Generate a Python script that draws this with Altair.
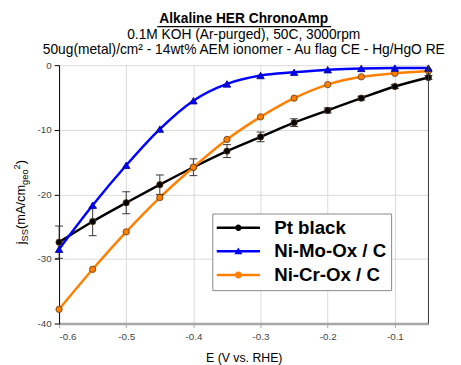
import altair as alt
import pandas as pd

# ---------------- data ----------------
E = [-0.6, -0.55, -0.5, -0.45, -0.4, -0.35, -0.3, -0.25, -0.2, -0.15, -0.1, -0.05]
pt_black = [-27.4, -24.2, -21.3, -18.5, -15.8, -13.3, -11.1, -8.9, -7.0, -5.1, -3.3, -1.9]
pt_err = [2.5, 2.2, 1.7, 1.5, 1.3, 1.0, 0.75, 0.6, 0.4, 0.3, 0.3, 0.3]
ni_mo = [-28.5, -21.7, -15.5, -9.9, -5.5, -2.9, -1.6, -1.1, -0.7, -0.5, -0.45, -0.45]
ni_cr = [-37.8, -31.6, -25.8, -20.5, -15.8, -11.5, -8.0, -5.1, -3.0, -1.8, -1.26, -0.9]

series_names = ["Pt black", "Ni-Mo-Ox / C", "Ni-Cr-Ox / C"]
series_colors = ["#000000", "#0000FF", "#FF8000"]
x_ticks = [-0.6, -0.5, -0.4, -0.3, -0.2, -0.1]
y_ticks = [-40, -30, -20, -10, 0]

title_text = "Alkaline HER ChronoAmp"
subtitle_lines = ["0.1M KOH (Ar-purged), 50C, 3000rpm",
                  "50ug(metal)/cm\u00b2 - 14wt% AEM ionomer - Au flag CE - Hg/HgO RE"]
x_title = "E (V vs. RHE)"

FONT = "Liberation Sans"

rows = []
for name, vals in zip(series_names, [pt_black, ni_mo, ni_cr]):
    for e, v in zip(E, vals):
        rows.append({"E": e, "j": v, "series": name})
df = pd.DataFrame(rows)
pt_df = pd.DataFrame({"E": E, "j": pt_black,
                      "lo": [v - s for v, s in zip(pt_black, pt_err)],
                      "hi": [v + s for v, s in zip(pt_black, pt_err)]})
dummy = pd.DataFrame({"k": [0]})

minus_fix = "replace(datum.label, '\u2212', '-')"

x_enc = alt.X("E:Q",
              scale=alt.Scale(domain=[-0.6, -0.05], nice=False, zero=False),
              axis=alt.Axis(values=x_ticks, format=".1f", labelExpr=minus_fix,
                            title=x_title, grid=True,
                            domainColor="#a6a6a6", domainWidth=2.5,
                            tickColor="#a6a6a6", tickSize=4,
                            labelPadding=4, titlePadding=11))
y_enc = alt.Y("j:Q",
              scale=alt.Scale(domain=[-40, 0], nice=False, zero=False),
              axis=alt.Axis(values=y_ticks, format="d", labelExpr=minus_fix,
                            title=None, grid=True,
                            domainColor="#000000", domainWidth=1,
                            tickColor="#000000", tickSize=5, labelPadding=3))
color_scale = alt.Scale(domain=series_names, range=series_colors)
color_enc = alt.Color("series:N", scale=color_scale, legend=None)

base = alt.Chart(df)

lines = base.mark_line(strokeWidth=2.5, interpolate="monotone").encode(
    x=x_enc, y=y_enc, color=color_enc)

err_rule = alt.Chart(pt_df).mark_rule(color="#333333", strokeWidth=1).encode(
    x="E:Q", y="lo:Q", y2="hi:Q")
err_lo = alt.Chart(pt_df).mark_tick(orient="horizontal", size=8, thickness=1,
                                    color="#333333", opacity=1).encode(x="E:Q", y="lo:Q")
err_hi = alt.Chart(pt_df).mark_tick(orient="horizontal", size=8, thickness=1,
                                    color="#333333", opacity=1).encode(x="E:Q", y="hi:Q")

circles = base.transform_filter(
    alt.FieldOneOfPredicate(field="series", oneOf=["Pt black", "Ni-Cr-Ox / C"])
).mark_point(shape="circle", filled=True, size=42, stroke="#5a3a1a",
             strokeWidth=0.8, opacity=1).encode(x="E:Q", y="j:Q", color=color_enc)

triangles = base.transform_filter(
    alt.FieldEqualPredicate(field="series", equal="Ni-Mo-Ox / C")
).mark_point(shape="triangle-up", filled=True, size=58, stroke="#000080",
             strokeWidth=0.8, opacity=1).encode(x="E:Q", y="j:Q", color=color_enc)

border = alt.Chart(dummy).mark_rule(color="#333333", strokeWidth=1).encode(
    x=alt.datum(-0.05))

# legend symbols: filled line bar + marker, as custom paths
legend_paths = [
    "M-3,-0.17H3V0.17H-3Z M-0.45,0A0.45,0.45,0,1,1,0.45,0A0.45,0.45,0,1,1,-0.45,0Z",
    "M-3,-0.17H3V0.17H-3Z M0,-0.55L0.55,0.4L-0.55,0.4Z",
    "M-3,-0.17H3V0.17H-3Z M-0.48,0A0.48,0.48,0,1,1,0.48,0A0.48,0.48,0,1,1,-0.48,0Z",
]
leg = alt.Legend(title=None, orient="none", legendX=156, legendY=151,
                 strokeColor="#888888", fillColor="#ffffff", padding=5,
                 labelFont=FONT, labelFontSize=19, labelFontWeight="bold",
                 labelColor="#000000", symbolSize=215, symbolStrokeWidth=0,
                 symbolOpacity=1, symbolOffset=12, labelOffset=27, rowPadding=4,
                 labelLimit=300)
legend_layer = base.transform_filter("false").mark_point(
    filled=True, opacity=1, size=215).encode(
    color=alt.Color("series:N", scale=color_scale, legend=leg),
    shape=alt.Shape("series:N", scale=alt.Scale(domain=series_names, range=legend_paths), legend=leg),
)

# y-axis title pieces: j_SS(mA/cm_geo^2)
def ytxt(t, size, xpos, ypos):
    return alt.Chart(dummy).mark_text(text=t, angle=270, align="left",
                                      baseline="alphabetic", font=FONT,
                                      fontSize=size, color="#000000").encode(
        x=alt.value(xpos), y=alt.value(ypos))

ytitle = [
    ytxt("j", 13, -35, 182.3),
    ytxt("SS", 9.5, -32, 179.4),
    ytxt("(mA/cm", 13, -35, 166.7),
    ytxt("geo", 9.5, -32, 121.9),
    ytxt("2", 9.5, -40, 106.1),
    ytxt(")", 13, -35, 100.8),
]

underline = alt.Chart(dummy).mark_rule(color="#000000", strokeWidth=1.2).encode(
    x=alt.value(100), x2=alt.value(277), y=alt.value(-39.2))

chart = alt.layer(
    lines, err_rule, err_lo, err_hi, circles, triangles, border, legend_layer,
    underline, *ytitle
).resolve_scale(color="independent", shape="independent").properties(
    width=376, height=263,
    autosize=alt.AutoSizeParams(type="none"),
    padding={"left": 52, "top": 55, "right": 25, "bottom": 40},
    title=alt.TitleParams(text=title_text, subtitle=subtitle_lines,
                          font=FONT, fontSize=14, fontWeight="bold", color="#000000",
                          subtitleFont=FONT, subtitleFontSize=14, subtitleColor="#000000",
                          subtitlePadding=3, subtitleLineHeight=14.5,
                          anchor="middle", frame="group", offset=-31),
).configure_view(stroke=None).configure_axis(
    labelFont=FONT, labelFontSize=10, labelColor="#444444",
    titleFont=FONT, titleFontSize=12.5, titleFontWeight="normal", titleColor="#000000",
    gridColor="#d9d9d9", gridWidth=1,
)

chart.save("out.html", embed_options={"renderer": "svg", "actions": False})
